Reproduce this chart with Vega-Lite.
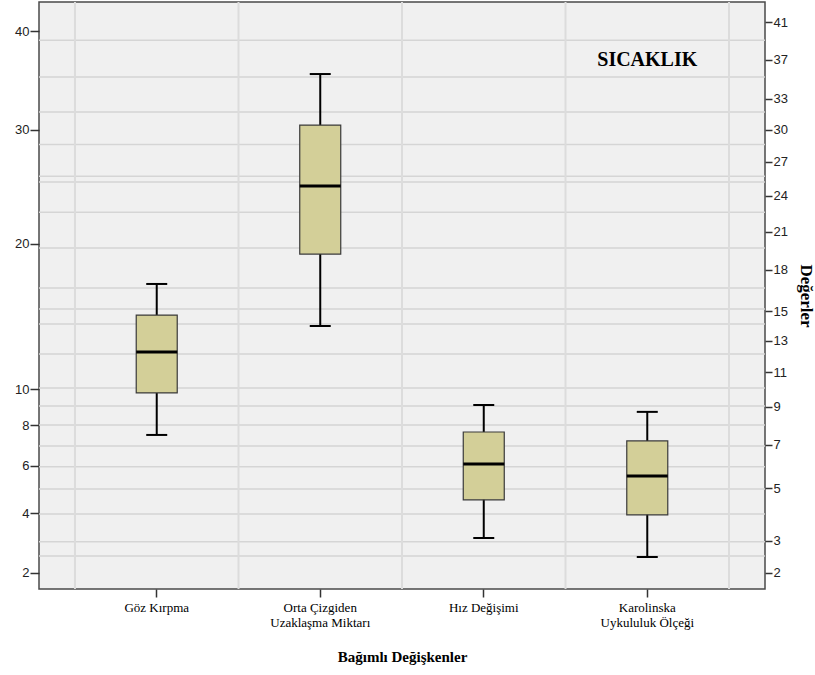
{
  "$schema": "https://vega.github.io/schema/vega-lite/v6.json",
  "width": 726,
  "height": 587,
  "autosize": {"type": "none"},
  "padding": {"left": 39, "top": 2, "right": 50, "bottom": 86},
  "background": "#ffffff",
  "config": {
    "font": "Liberation Serif",
    "view": {"fill": "#f0f0f0", "stroke": "#4a4a4a", "strokeWidth": 1.5},
    "axis": {"grid": false, "labelFont": "Liberation Serif", "titleFont": "Liberation Serif"},
    "axisX": {
      "labelAngle": 0,
      "labelFont": "Liberation Serif",
      "labelFontSize": 13,
      "labelColor": "#000000",
      "labelLineHeight": 15,
      "labelPadding": 4,
      "tickColor": "#333333",
      "tickSize": 8,
      "tickWidth": 1.5,
      "domain": false,
      "titleFont": "Liberation Serif",
      "titleFontSize": 15,
      "titleFontWeight": "bold",
      "titleColor": "#000000",
      "titlePadding": 20
    }
  },
  "datasets": {
    "boxes": [
      {"cat": "Göz Kırpma", "lower": 7.5, "q1": 9.78, "median": 12.26, "q3": 14.72, "upper": 16.94},
      {"cat": "Orta Çizgiden Uzaklaşma Miktarı", "lower": 13.97, "q1": 19.21, "median": 24.84, "q3": 30.43, "upper": 35.5},
      {"cat": "Hız Değişimi", "lower": 3.09, "q1": 4.52, "median": 6.08, "q3": 7.65, "upper": 9.1},
      {"cat": "Karolinska Uykululuk Ölçeği", "lower": 2.47, "q1": 3.93, "median": 5.54, "q3": 7.2, "upper": 8.72}
    ],
    "hgrid": [
      {"v": 2.5}, {"v": 2.96}, {"v": 3.96}, {"v": 4.97}, {"v": 5.95}, {"v": 6.95}, {"v": 8.02}, {"v": 9.05}, {"v": 10.07},
      {"v": 12.14}, {"v": 14.11}, {"v": 15.14}, {"v": 16.64}, {"v": 19.68}, {"v": 22.6}, {"v": 25.2}, {"v": 25.7},
      {"v": 28.6}, {"v": 31.7}, {"v": 35.2}, {"v": 39.05}
    ],
    "cats": [
      {"cat": "Göz Kırpma"},
      {"cat": "Orta Çizgiden Uzaklaşma Miktarı"},
      {"cat": "Hız Değişimi"},
      {"cat": "Karolinska Uykululuk Ölçeği"}
    ],
    "label": [
      {"cat": "Karolinska Uykululuk Ölçeği", "v": 37, "text": "SICAKLIK"}
    ]
  },
  "resolve": {"axis": {"y": "independent"}},
  "layer": [
    {
      "data": {"name": "hgrid"},
      "mark": {"type": "rule", "color": "#d5d5d5", "strokeWidth": 1.5},
      "encoding": {
        "y": {"field": "v", "type": "quantitative", "axis": null,
              "scale": {"type": "pow", "exponent": 0.55, "domain": [1.57, 43.25], "nice": false, "zero": false}}
      }
    },
    {
      "data": {"name": "cats"},
      "mark": {"type": "rule", "color": "#dcdcdc", "strokeWidth": 2},
      "encoding": {
        "x": {"field": "cat", "type": "nominal", "bandPosition": 0, "title": "Bağımlı Değişkenler",
              "scale": {"domain": ["Göz Kırpma", "Orta Çizgiden Uzaklaşma Miktarı", "Hız Değişimi", "Karolinska Uykululuk Ölçeği"], "paddingInner": 0, "paddingOuter": 0.22},
              "axis": {"labelFont": "Liberation Serif", "labelFontSize": 13}}
      }
    },
    {
      "data": {"name": "cats"},
      "transform": [{"filter": "datum.cat == 'Karolinska Uykululuk Ölçeği'"}],
      "mark": {"type": "rule", "color": "#dcdcdc", "strokeWidth": 2},
      "encoding": {
        "x": {"field": "cat", "type": "nominal", "bandPosition": 1, "title": "Bağımlı Değişkenler"}
      }
    },
    {
      "data": {"name": "boxes"},
      "mark": {"type": "rule", "color": "#000000", "strokeWidth": 2},
      "encoding": {
        "x": {"field": "cat", "type": "nominal", "title": "Bağımlı Değişkenler",
              "axis": {
                "labelFont": "Liberation Serif",
                "labelFontSize": 13,
                "labelExpr": "datum.value == 'Orta Çizgiden Uzaklaşma Miktarı' ? ['Orta Çizgiden', 'Uzaklaşma Miktarı'] : datum.value == 'Karolinska Uykululuk Ölçeği' ? ['Karolinska', 'Uykululuk Ölçeği'] : datum.value"
              }},
        "y": {"field": "lower", "type": "quantitative",
              "axis": {
                "orient": "left",
                "title": null,
                "values": [2, 4, 6, 8, 10, 20, 30, 40],
                "labelFont": "Liberation Sans",
                "labelFontSize": 13,
                "labelColor": "#222222",
                "tickColor": "#333333",
                "tickSize": 9,
                "tickWidth": 1.5,
                "labelPadding": 1,
                "domain": false
              }},
        "y2": {"field": "upper"}
      }
    },
    {
      "data": {"name": "boxes"},
      "mark": {"type": "bar", "size": 41, "fill": "#d3cf98", "stroke": "#3a3a3a", "strokeWidth": 1.2},
      "encoding": {
        "x": {"field": "cat", "type": "nominal", "title": "Bağımlı Değişkenler"},
        "y": {"field": "q1", "type": "quantitative", "axis": null},
        "y2": {"field": "q3"}
      }
    },
    {
      "data": {"name": "boxes"},
      "mark": {"type": "tick", "size": 41, "thickness": 3, "color": "#000000", "opacity": 1},
      "encoding": {
        "x": {"field": "cat", "type": "nominal", "title": "Bağımlı Değişkenler"},
        "y": {"field": "median", "type": "quantitative", "axis": null}
      }
    },
    {
      "data": {"name": "boxes"},
      "mark": {"type": "tick", "size": 21, "thickness": 2, "color": "#000000", "opacity": 1},
      "encoding": {
        "x": {"field": "cat", "type": "nominal", "title": "Bağımlı Değişkenler"},
        "y": {"field": "upper", "type": "quantitative", "axis": null}
      }
    },
    {
      "data": {"name": "boxes"},
      "mark": {"type": "tick", "size": 21, "thickness": 2, "color": "#000000", "opacity": 1},
      "encoding": {
        "x": {"field": "cat", "type": "nominal", "title": "Bağımlı Değişkenler"},
        "y": {"field": "lower", "type": "quantitative", "axis": null}
      }
    },
    {
      "data": {"name": "label"},
      "mark": {"type": "text", "font": "Liberation Serif", "fontSize": 20, "fontWeight": "bold", "color": "#000000", "baseline": "middle", "align": "center"},
      "encoding": {
        "x": {"field": "cat", "type": "nominal", "title": "Bağımlı Değişkenler"},
        "y": {"field": "v", "type": "quantitative",
              "axis": {
                "orient": "right",
                "title": "Değerler",
                "titleFont": "Liberation Serif",
                "titleFontSize": 17,
                "titleFontWeight": "bold",
                "titleColor": "#000000",
                "titlePadding": 9,
                "values": [2, 3, 5, 7, 9, 11, 13, 15, 18, 21, 24, 27, 30, 33, 37, 41],
                "labelFont": "Liberation Sans",
                "labelFontSize": 13,
                "labelColor": "#222222",
                "tickColor": "#333333",
                "tickSize": 7,
                "tickWidth": 1.5,
                "labelPadding": 1,
                "domain": false
              }},
        "text": {"field": "text"}
      }
    }
  ]
}
